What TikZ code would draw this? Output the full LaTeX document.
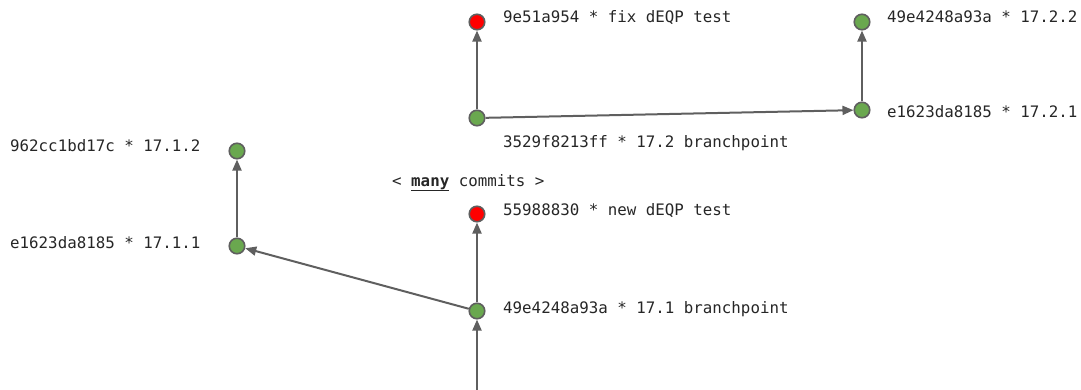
\documentclass[tikz,border=0pt]{standalone}
\usepackage{fontspec}
\setmonofont{DejaVu Sans Mono}
\usepackage{xcolor}
\usepackage{tikz}
\usetikzlibrary{arrows.meta}
\definecolor{commitgreen}{RGB}{106,168,79}
\definecolor{commitred}{RGB}{255,0,0}
\definecolor{edgegray}{RGB}{95,95,95}
\tikzstyle{commit} = [circle, minimum size=15.5pt, inner sep=0pt, draw=edgegray, line width=1.6pt]
\tikzstyle{label} = [font=\fontsize{15.8}{18}\ttfamily, inner sep=0pt, anchor=base west, text=black!85]
\tikzstyle{arrow} = [-{Triangle[length=11pt, width=9pt]}, line width=2pt, draw=edgegray]

\begin{document}
\begin{tikzpicture}[x=1pt, y=-1pt]
    \useasboundingbox (0,0) rectangle (1081,390);
    % 17.2 branch
    \node[commit, fill=commitred]   (fix)    at (477,22)  {};
    \node[commit, fill=commitgreen] (bp172)  at (477,118) {};
    \node[commit, fill=commitgreen] (r1721)  at (862,110) {};
    \node[commit, fill=commitgreen] (r1722)  at (862,22)  {};
    % 17.1 branch
    \node[commit, fill=commitgreen] (r1712)  at (237,151) {};
    \node[commit, fill=commitgreen] (r1711)  at (237,246) {};
    \node[commit, fill=commitred]   (newtest) at (477,214) {};
    \node[commit, fill=commitgreen] (bp171)  at (477,311) {};
    \coordinate (tail) at (477,392);
    % labels
    \node[label] (fixlbl)   at (503,23)  {9e51a954 * fix dEQP test};
    \node[label] (r1722lbl) at (887,23)  {49e4248a93a * 17.2.2};
    \node[label] (r1721lbl) at (887,118) {e1623da8185 * 17.2.1};
    \node[label] (bp172lbl) at (503,148) {3529f8213ff * 17.2 branchpoint};
    \node[label] (r1712lbl) at (10,152)  {962cc1bd17c * 17.1.2};
    \node[label] (r1711lbl) at (10,248)  {e1623da8185 * 17.1.1};
    \node[label] (manylbl)  at (392,186) {< \underline{\textbf{many}} commits >};
    \node[label] (newlbl)   at (503,215) {55988830 * new dEQP test};
    \node[label] (bp171lbl) at (503,313) {49e4248a93a * 17.1 branchpoint};
    % history
    \draw[arrow] (tail) -- (bp171);
    \draw[arrow] (bp171) -- (newtest);
    \draw[arrow] (bp171) -- (r1711);
    \draw[arrow] (r1711) -- (r1712);
    \draw[arrow] (bp172) -- (fix);
    \draw[arrow] (bp172) -- (r1721);
    \draw[arrow] (r1721) -- (r1722);
\end{tikzpicture}
\end{document}
